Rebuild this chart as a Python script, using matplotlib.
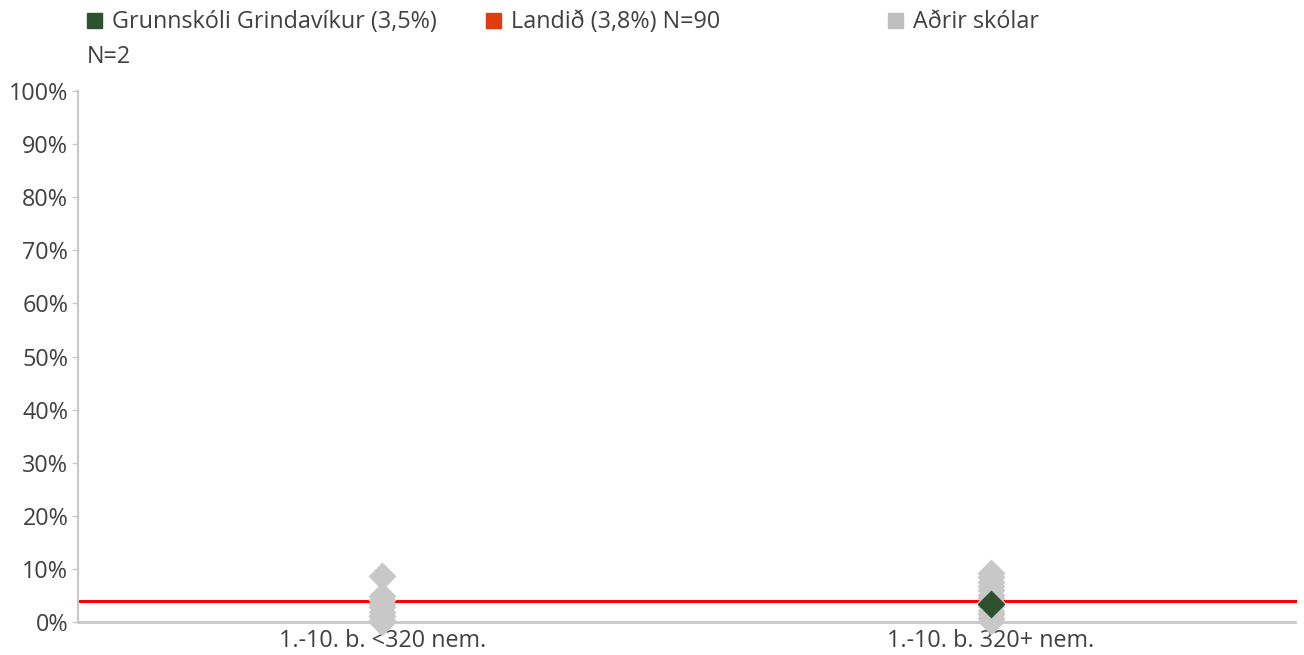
import numpy as np
import matplotlib.pyplot as plt

# gögn lesin af myndinni
flokkar = ['1.-10. b. <320 nem.', '1.-10. b. 320+ nem.']
adrir_1 = [8.7, 5.0, 4.2, 3.5, 2.8, 2.0, 1.2, 0.5, 0.0]
adrir_2 = [9.3, 8.5, 7.6, 6.8, 6.0, 5.2, 4.5, 3.8, 3.0, 2.2, 1.5, 0.8, 0.2]
skoli_x = [1]
skoli_y = [3.5]
landid = 4.0
y_ticks = [0, 10, 20, 30, 40, 50, 60, 70, 80, 90, 100]

plt.rcParams['font.family'] = ['Open Sans', 'DejaVu Sans']
textalitur = '#404040'
graenn = '#2E5230'
rautt = '#E03C10'
grar = '#C8C8C8'
fs = 16.8

fig = plt.figure(figsize=(13.04, 6.55), dpi=100)
ax = fig.add_axes([0.0598, 0.0499, 0.9333, 0.8116])

ax.axhline(landid, color='#FF0000', lw=2.2, zorder=1)
ax.plot([0] * len(adrir_1), adrir_1, 'D', color=grar, ms=14.5, mec='none', zorder=2)
ax.plot([1] * len(adrir_2), adrir_2, 'D', color=grar, ms=14.5, mec='none', zorder=2)
ax.plot(skoli_x, skoli_y, 'D', color=graenn, ms=14.5, mec='none', zorder=3)

ax.set_xlim(-0.5, 1.5)
ax.set_ylim(0, 100)
ax.set_xticks([0, 1])
ax.set_xticklabels(flokkar)
ax.set_yticks(y_ticks)
ax.set_yticklabels([f'{v}%' for v in y_ticks])
ax.tick_params(axis='x', length=0, labelsize=fs, labelcolor=textalitur, pad=5)
ax.tick_params(axis='y', length=4, width=1, color=grar, labelsize=fs, labelcolor=textalitur, pad=3)
for s in ['top', 'right']:
    ax.spines[s].set_visible(False)
ax.spines['left'].set_color(grar)
ax.spines['bottom'].set_color(grar)
ax.spines['left'].set_linewidth(1.5)
ax.spines['bottom'].set_linewidth(2)
for ln in ax.lines:
    ln.set_clip_on(False)

# skýringar
def skyring(x, litur, texti):
    fig.patches.append(plt.Rectangle((x / 1304, 1 - 28 / 655), 15 / 1304, 15 / 655,
                                     transform=fig.transFigure, color=litur))
    fig.text((x + 25) / 1304, 1 - 22 / 655, texti, fontsize=fs, color=textalitur, va='center')

skyring(87, graenn, 'Grunnskóli Grindavíkur (3,5%)')
skyring(486, rautt, 'Landið (3,8%) N=90')
skyring(888, '#BFBFBF', 'Aðrir skólar')
fig.text(87 / 1304, 1 - 57 / 655, 'N=2', fontsize=fs, color=textalitur, va='center')

fig.savefig('out.png', dpi=100)
